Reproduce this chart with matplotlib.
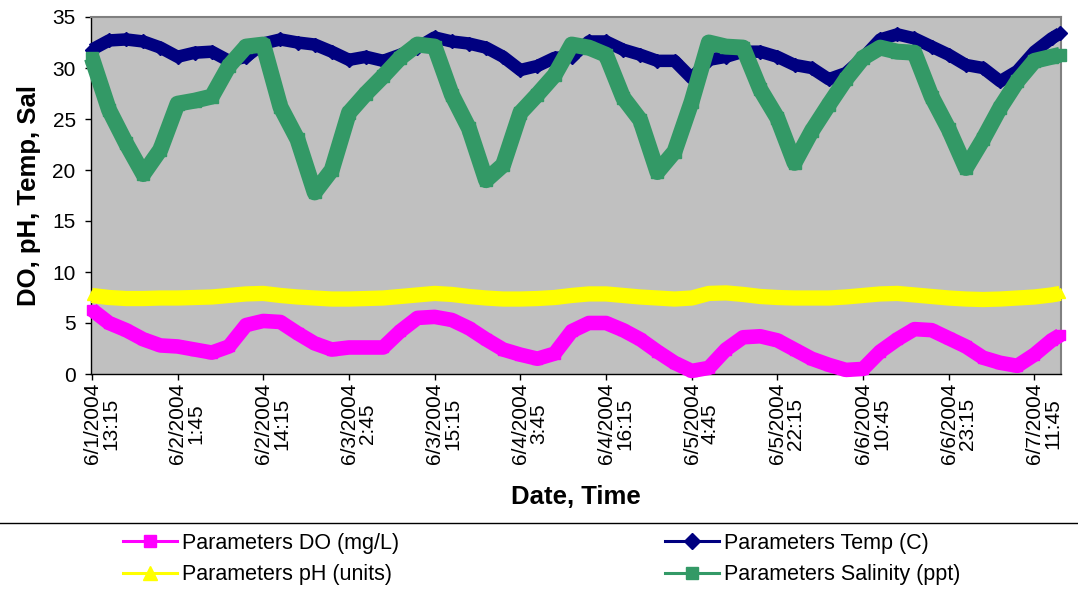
import numpy as np
import matplotlib
matplotlib.use("Agg")
import matplotlib.pyplot as plt
from matplotlib.lines import Line2D
from matplotlib.transforms import blended_transform_factory, ScaledTranslation

plt.rcParams['font.family'] = ['Liberation Sans', 'DejaVu Sans']

# ---- data (sample index = 15-min reading number) ----
sample_idx = np.r_[np.arange(0, 561, 10), 565]

tick_idx = np.arange(0, 551, 50)
tick_labels = ["6/1/2004\n13:15", "6/2/2004\n1:45", "6/2/2004\n14:15", "6/3/2004\n2:45",
               "6/3/2004\n15:15", "6/4/2004\n3:45", "6/4/2004\n16:15", "6/5/2004\n4:45",
               "6/5/2004\n22:15", "6/6/2004\n10:45", "6/6/2004\n23:15", "6/7/2004\n11:45"]

do_mgL = [6.3, 5.0, 4.3, 3.4, 2.8, 2.7, 2.4, 2.1, 2.7, 4.8,
          5.2, 5.1, 4.0, 3.0, 2.4, 2.6, 2.6, 2.6, 4.2, 5.5,
          5.6, 5.3, 4.5, 3.4, 2.4, 1.9, 1.5, 2.0, 4.2,
          5.0, 5.0, 4.3, 3.4, 2.2, 1.1, 0.3, 0.6, 2.4, 3.6,
          3.7, 3.3, 2.4, 1.5, 0.9, 0.4, 0.5, 2.2, 3.4, 4.4,
          4.3, 3.5, 2.7, 1.6, 1.1, 0.8, 1.9, 3.3, 3.8]

temp_c = [31.8, 32.7, 32.8, 32.6, 32.0, 31.1, 31.5, 31.6, 30.7, 31.1,
          32.4, 32.8, 32.5, 32.3, 31.6, 30.8, 31.1, 30.7, 31.3, 32.0,
          33.0, 32.6, 32.4, 32.0, 31.1, 29.8, 30.2, 31.0, 31.1,
          32.6, 32.6, 31.8, 31.3, 30.7, 30.7, 29.0, 30.8, 31.1, 31.6,
          31.6, 31.1, 30.3, 30.0, 28.9, 29.5, 31.0, 32.8, 33.3, 32.9,
          32.1, 31.3, 30.3, 30.0, 28.7, 29.7, 31.6, 32.9, 33.4]

ph_units = [7.7, 7.5, 7.4, 7.4, 7.45, 7.45, 7.5, 7.55, 7.7, 7.85,
            7.9, 7.7, 7.55, 7.45, 7.35, 7.35, 7.4, 7.45, 7.6, 7.75,
            7.9, 7.8, 7.6, 7.45, 7.35, 7.35, 7.4, 7.5, 7.7,
            7.85, 7.85, 7.7, 7.55, 7.45, 7.35, 7.45, 7.9, 7.95, 7.8,
            7.6, 7.5, 7.45, 7.45, 7.45, 7.55, 7.7, 7.85, 7.9, 7.75,
            7.6, 7.45, 7.35, 7.3, 7.35, 7.45, 7.55, 7.75, 7.9]

sal_ppt = [31.0, 25.9, 22.6, 19.6, 22.0, 26.5, 26.8, 27.2, 30.2, 32.1,
           32.3, 26.2, 23.0, 17.8, 20.0, 25.6, 27.5, 29.2, 31.0, 32.3,
           32.1, 27.4, 24.1, 19.0, 20.5, 25.6, 27.4, 29.3, 32.3,
           32.0, 31.3, 27.1, 24.9, 19.8, 21.8, 26.7, 32.5, 32.1, 32.0,
           27.9, 25.1, 20.7, 23.8, 26.4, 28.9, 31.0, 32.0, 31.6, 31.5,
           27.2, 24.0, 20.2, 23.0, 26.1, 28.7, 30.7, 31.1, 31.3]

series_names = ["Parameters DO (mg/L)", "Parameters Temp (C)",
                "Parameters pH (units)", "Parameters Salinity (ppt)"]

# ---- figure ----
W, H = 1078, 592
fig = plt.figure(figsize=(W / 100, H / 100), dpi=100)
ax = fig.add_axes([91 / W, 1 - 374 / H, (1061 - 91) / W, (374 - 17) / H])
ax.set_facecolor('#C0C0C0')

c_do, c_temp, c_ph, c_sal = '#FF00FF', '#000080', '#FFFF00', '#339966'

ax.plot(sample_idx, do_mgL, color=c_do, lw=10.5, marker='s', ms=7, solid_joinstyle='round',
        solid_capstyle='butt', clip_on=False, zorder=3)
ax.plot(sample_idx, temp_c, color=c_temp, lw=9.0, marker='D', ms=7, solid_joinstyle='round',
        solid_capstyle='butt', clip_on=False, zorder=3)
ax.plot(sample_idx, ph_units, color=c_ph, lw=11.0, marker='^', ms=7, solid_joinstyle='round',
        solid_capstyle='butt', clip_on=False, zorder=3)
ax.plot(sample_idx, sal_ppt, color=c_sal, lw=11.5, marker='s', ms=9, solid_joinstyle='round',
        solid_capstyle='butt', clip_on=False, zorder=4)

ax.set_xlim(-0.5, 565.5)
ax.set_ylim(0, 35)
ax.set_yticks(np.arange(0, 36, 5))
ax.tick_params(axis='y', direction='out', length=4, width=1, pad=7, labelsize=15)
ax.set_xticks(tick_idx)
ax.set_xticklabels([''] * len(tick_idx))
ax.tick_params(axis='x', direction='out', length=4.5, width=1)

for s in ['top', 'right']:
    ax.spines[s].set_color('#808080')
    ax.spines[s].set_linewidth(1.5)
for s in ['left', 'bottom']:
    ax.spines[s].set_color('black')
    ax.spines[s].set_linewidth(1)

trans = blended_transform_factory(ax.transData, ax.transAxes) + \
    ScaledTranslation(0.095, -0.09, fig.dpi_scale_trans)
for xi, lab in zip(tick_idx, tick_labels):
    ax.text(xi, 0, lab, transform=trans, rotation=90, ha='center', va='top',
            multialignment='center', fontsize=15, linespacing=0.95)

ax.set_ylabel("DO, pH, Temp, Sal", fontsize=18.5, fontweight='bold', labelpad=8)
fig.text(576 / W, 1 - 497 / H, "Date, Time", fontsize=18.5, fontweight='bold',
         ha='center', va='center')

# legend area
fig.add_artist(Line2D([0, 1], [1 - 523 / H, 1 - 523 / H], transform=fig.transFigure,
                      color='black', lw=1))

def proxy(c, m, ms):
    return Line2D([], [], color=c, lw=2.2, marker=m, ms=ms, mec=c, mfc=c)

h_do = proxy(c_do, 's', 9)
h_temp = proxy(c_temp, 'D', 8)
h_ph = proxy(c_ph, '^', 10)
h_sal = proxy(c_sal, 's', 9)

common = dict(frameon=False, fontsize=15.5, handlelength=2.5, handletextpad=0.25,
              labelspacing=0.5, borderpad=0, borderaxespad=0, loc='center left')
fig.legend([h_do, h_ph], [series_names[0], series_names[2]],
           bbox_to_anchor=(123 / W, 1 - 559 / H), **common)
fig.legend([h_temp, h_sal], [series_names[1], series_names[3]],
           bbox_to_anchor=(665 / W, 1 - 559 / H), **common)

fig.savefig("out.png", dpi=100)
